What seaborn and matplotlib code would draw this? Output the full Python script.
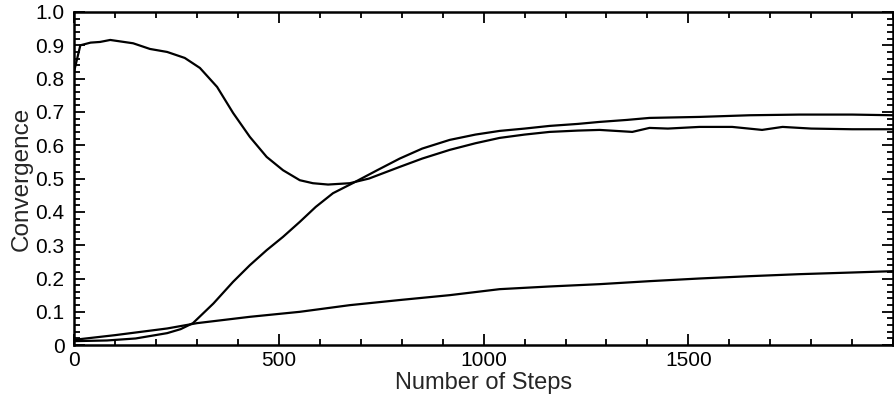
import matplotlib
matplotlib.use("Agg")
import matplotlib.pyplot as plt
import seaborn as sns
import pandas as pd
from matplotlib.ticker import MultipleLocator

# Curve A: starts high, dips, recovers
steps_a = [0, 15, 40, 63, 88, 144, 185, 227, 270, 307, 349, 388, 429, 470, 510, 551, 583, 620, 673,
           720, 795, 850, 917, 980, 1039, 1100, 1161, 1230, 1283, 1363, 1405, 1450, 1527, 1607, 1680,
           1730, 1800, 1900, 2000]
conv_a = [0.823, 0.900, 0.908, 0.910, 0.916, 0.906, 0.889, 0.880, 0.862, 0.832, 0.775, 0.697, 0.625,
          0.565, 0.525, 0.495, 0.486, 0.482, 0.486, 0.500, 0.535, 0.560, 0.586, 0.606, 0.622, 0.632,
          0.640, 0.644, 0.646, 0.640, 0.652, 0.650, 0.655, 0.655, 0.646, 0.655, 0.650, 0.648, 0.648]

# Curve B: sigmoid rise
steps_b = [0, 80, 150, 227, 260, 290, 340, 388, 429, 470, 510, 551, 590, 632, 680, 740, 795, 850,
           917, 980, 1039, 1100, 1161, 1230, 1283, 1350, 1405, 1527, 1650, 1771, 1900, 2000]
conv_b = [0.012, 0.014, 0.020, 0.036, 0.048, 0.066, 0.125, 0.190, 0.240, 0.285, 0.325, 0.370,
          0.415, 0.456, 0.486, 0.525, 0.560, 0.590, 0.616, 0.632, 0.643, 0.650, 0.658, 0.664,
          0.670, 0.676, 0.682, 0.685, 0.690, 0.692, 0.692, 0.690]

# Curve C: slow, nearly linear rise
steps_c = [0, 100, 227, 300, 429, 551, 673, 800, 917, 1039, 1160, 1283, 1405, 1527, 1650, 1771,
           1900, 2000]
conv_c = [0.016, 0.030, 0.050, 0.066, 0.085, 0.100, 0.120, 0.136, 0.150, 0.168, 0.176, 0.183,
          0.192, 0.200, 0.207, 0.213, 0.218, 0.222]

x_ticks = [0, 500, 1000, 1500]
x_tick_labels = ["0", "500", "1000", "1500"]
y_ticks = [0.0, 0.1, 0.2, 0.3, 0.4, 0.5, 0.6, 0.7, 0.8, 0.9, 1.0]
y_tick_labels = ["0", "0.1", "0.2", "0.3", "0.4", "0.5", "0.6", "0.7", "0.8", "0.9", "1.0"]

df = pd.concat([
    pd.DataFrame({"step": steps_a, "conv": conv_a, "run": "A"}),
    pd.DataFrame({"step": steps_b, "conv": conv_b, "run": "B"}),
    pd.DataFrame({"step": steps_c, "conv": conv_c, "run": "C"}),
], ignore_index=True)

sns.set_style("ticks")
plt.rcParams["font.family"] = ["Liberation Sans", "DejaVu Sans"]

fig = plt.figure(figsize=(8.94, 3.99), dpi=100)
ax = fig.add_axes([0.083, 0.135, 0.916, 0.835])

sns.lineplot(data=df, x="step", y="conv", units="run", estimator=None,
             color="black", linewidth=1.6, ax=ax, legend=False, sort=False)

ax.set_xlim(0, 2000)
ax.set_ylim(0, 1.0)
ax.set_xticks(x_ticks)
ax.set_xticklabels(x_tick_labels)
ax.set_yticks(y_ticks)
ax.set_yticklabels(y_tick_labels)
ax.xaxis.set_minor_locator(MultipleLocator(100))
ax.yaxis.set_minor_locator(MultipleLocator(0.02))
ax.tick_params(which="both", direction="in", top=True, right=True, width=1.3, colors="black",
               labelsize=15)
ax.tick_params(which="major", length=8)
ax.tick_params(which="minor", length=4)
ax.tick_params(axis="x", pad=4)
ax.tick_params(axis="y", pad=7)
for s in ax.spines.values():
    s.set_linewidth(1.8)
    s.set_color("black")

ax.set_xlabel("Number of Steps", fontsize=17, labelpad=1.5)
ax.set_ylabel("Convergence", fontsize=17.5, labelpad=2)

fig.savefig("out.png", dpi=100)
